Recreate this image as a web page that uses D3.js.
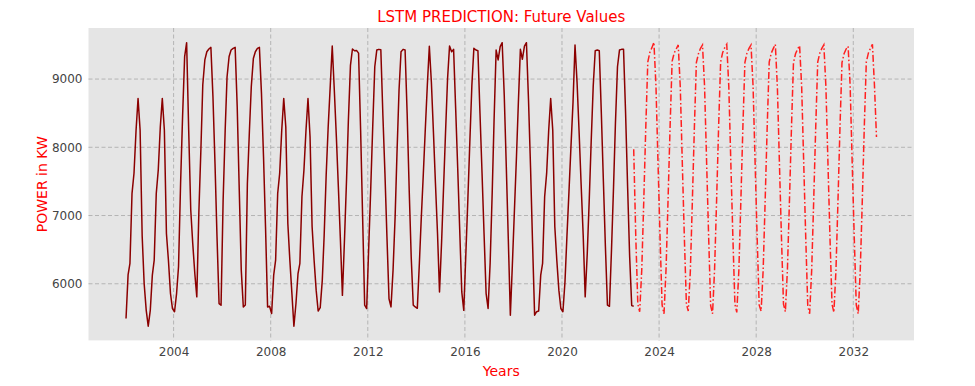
<!DOCTYPE html>
<html>
<head>
<meta charset="utf-8">
<script src="https://cdn.jsdelivr.net/npm/d3@7/dist/d3.min.js"></script>
<style>
  body { margin: 0; background: #fff; }
  svg text { font-family: "DejaVu Sans", sans-serif; }
</style>
</head>
<body>
<div id="chart"></div>
<script>
// monthly power (KW), one row per year, Jan..Dec
var histYears = [2002, 2003, 2004, 2005, 2006, 2007, 2008, 2009, 2010, 2011, 2012,
                 2013, 2014, 2015, 2016, 2017, 2018, 2019, 2020, 2021, 2022];
var histPower = [
  [5490, 6130, 6300, 7320, 7620, 8250, 8716, 8250, 6700, 6000, 5610, 5378],
  [5610, 6126, 6345, 7323, 7665, 8300, 8716, 8250, 6737, 6345, 5857, 5637],
  [5590, 5860, 6250, 7470, 8450, 9330, 9533, 8250, 7080, 6590, 6150, 5808],
  [7050, 7980, 8917, 9280, 9400, 9440, 9464, 8740, 7760, 6690, 5710, 5686],
  [7220, 8250, 9030, 9330, 9425, 9450, 9464, 8595, 7370, 6200, 5660, 5690],
  [7470, 8250, 8890, 9300, 9400, 9450, 9464, 8790, 7860, 6835, 5660, 5670],
  [5564, 6126, 6345, 7323, 7617, 8250, 8716, 8300, 6880, 6345, 5857, 5378],
  [5710, 6150, 6300, 7275, 7665, 8250, 8716, 8150, 6835, 6345, 5906, 5600],
  [5650, 6050, 6700, 7600, 8300, 8900, 9484, 8840, 8150, 7420, 6640, 5830],
  [6640, 7520, 8400, 9200, 9440, 9415, 9420, 9380, 8250, 6980, 5686, 5637],
  [6540, 7420, 8300, 9180, 9425, 9435, 9430, 8470, 7617, 6690, 5780, 5661],
  [6200, 6980, 7910, 8840, 9400, 9435, 9425, 8500, 7370, 6395, 5686, 5660],
  [5640, 6300, 6950, 7600, 8260, 8917, 9480, 8946, 8213, 7470, 6737, 5880],
  [6600, 7440, 8200, 9000, 9484, 9400, 9435, 8570, 7690, 6790, 5880, 5610],
  [6430, 7250, 8070, 8910, 9450, 9425, 9415, 8500, 7620, 6740, 5860, 5637],
  [6310, 7340, 8400, 9425, 9280, 9474, 9533, 8765, 7714, 6660, 5540, 6270],
  [7070, 7860, 8640, 9435, 9290, 9484, 9533, 8700, 7700, 6600, 5540, 5590],
  [5600, 6126, 6297, 7275, 7617, 8250, 8716, 8250, 6835, 6345, 5906, 5637],
  [5590, 6030, 6690, 7350, 8010, 8660, 9500, 8946, 8210, 7455, 6712, 5808],
  [6440, 7255, 8076, 8900, 9415, 9425, 9415, 8500, 7500, 6550, 5686, 5670],
  [6500, 7430, 8350, 9180, 9425, 9435, 9435, 8500, 7400, 6400, 5680, 5670]
];

// LSTM forecast, starts on the last observed month (Dec 2022)
var predFirst = 7970;
var predYears = [2023, 2024, 2025, 2026, 2027, 2028, 2029, 2030, 2031, 2032];
var predPower = [
  [6700, 5700, 5590, 6200, 7200, 8300, 9250, 9390, 9460, 9540, 8900, 7800],
  [6700, 5690, 5560, 6220, 7230, 8320, 9260, 9380, 9440, 9500, 8880, 7780],
  [6680, 5700, 5600, 6180, 7190, 8290, 9240, 9370, 9450, 9500, 8900, 7820],
  [6710, 5680, 5560, 6210, 7210, 8310, 9250, 9390, 9460, 9510, 8890, 7790],
  [6690, 5700, 5580, 6190, 7200, 8300, 9240, 9380, 9450, 9500, 8900, 7800],
  [6700, 5690, 5600, 6200, 7220, 8310, 9250, 9380, 9450, 9510, 8880, 7790],
  [6690, 5700, 5590, 6210, 7200, 8290, 9240, 9370, 9440, 9490, 8900, 7810],
  [6700, 5680, 5560, 6200, 7210, 8300, 9250, 9380, 9450, 9500, 8890, 7800],
  [6690, 5700, 5580, 6190, 7190, 8300, 9240, 9370, 9440, 9480, 8900, 7790],
  [6700, 5690, 5560, 6200, 7200, 8310, 9250, 9380, 9450, 9510, 8900, 8150]
];

var xTickYears = [2004, 2008, 2012, 2016, 2020, 2024, 2028, 2032];
var yTickValues = [6000, 7000, 8000, 9000];

var width = 975, height = 386;
var plot = {left: 88.5, right: 914, top: 28, bottom: 340.4};

// flatten rows into dated points
var hist = [];
histYears.forEach(function(yr, r) {
  histPower[r].forEach(function(v, m) { hist.push({date: new Date(yr, m, 15), value: v}); });
});
var pred = [{date: new Date(2022, 11, 15), value: predFirst}];
predYears.forEach(function(yr, r) {
  predPower[r].forEach(function(v, m) { pred.push({date: new Date(yr, m, 15), value: v}); });
});
var all = hist.concat(pred);

// 5% padding like matplotlib autoscale
var dExt = d3.extent(all, function(d) { return d.date; });
var dPad = (dExt[1] - dExt[0]) * 0.05;
var vExt = d3.extent(all, function(d) { return d.value; });
var vPad = (vExt[1] - vExt[0]) * 0.05;

var x = d3.scaleTime()
  .domain([new Date(+dExt[0] - dPad), new Date(+dExt[1] + dPad)])
  .range([plot.left, plot.right]);
var y = d3.scaleLinear()
  .domain([vExt[0] - vPad, vExt[1] + vPad])
  .range([plot.bottom, plot.top]);

var svg = d3.select('#chart').append('svg')
  .attr('width', width).attr('height', height);

svg.append('rect')
  .attr('x', plot.left).attr('y', plot.top)
  .attr('width', plot.right - plot.left).attr('height', plot.bottom - plot.top)
  .attr('fill', '#e5e5e5');

var xTickDates = xTickYears.map(function(yr) { return new Date(yr, 0, 1); });

// grid
var grid = svg.append('g').attr('stroke', '#b4b4b4').attr('stroke-width', 1).attr('stroke-dasharray', '4,2.5');
grid.selectAll('.vg').data(xTickDates).enter().append('line')
  .attr('x1', function(d) { return x(d); }).attr('x2', function(d) { return x(d); })
  .attr('y1', plot.top).attr('y2', plot.bottom);
grid.selectAll('.hg').data(yTickValues).enter().append('line')
  .attr('x1', plot.left).attr('x2', plot.right)
  .attr('y1', function(d) { return y(d); }).attr('y2', function(d) { return y(d); });

// axes
var xAxis = svg.append('g')
  .attr('transform', 'translate(0,' + plot.bottom + ')')
  .call(d3.axisBottom(x).tickValues(xTickDates).tickFormat(d3.timeFormat('%Y')).tickSize(0).tickPadding(7));
var yAxis = svg.append('g')
  .attr('transform', 'translate(' + plot.left + ',0)')
  .call(d3.axisLeft(y).tickValues(yTickValues).tickFormat(d3.format('d')).tickSize(0).tickPadding(6));
[xAxis, yAxis].forEach(function(ax) {
  ax.select('.domain').remove();
  ax.selectAll('text').attr('fill', '#444').style('font-size', '12px');
});

var line = d3.line()
  .x(function(d) { return x(d.date); })
  .y(function(d) { return y(d.value); });

svg.append('path').datum(hist)
  .attr('d', line)
  .attr('fill', 'none')
  .attr('stroke', '#8b0000')
  .attr('stroke-width', 1.5)
  .attr('stroke-linejoin', 'round');

svg.append('path').datum(pred)
  .attr('d', line)
  .attr('fill', 'none')
  .attr('stroke', '#ff2020')
  .attr('stroke-width', 1.5)
  .attr('stroke-dasharray', '7,2.4,1.5,2.4');

// titles
svg.append('text')
  .attr('x', (plot.left + plot.right) / 2).attr('y', 22)
  .attr('text-anchor', 'middle').attr('fill', 'red').style('font-size', '15px')
  .text('LSTM PREDICTION: Future Values');
svg.append('text')
  .attr('x', (plot.left + plot.right) / 2).attr('y', 376)
  .attr('text-anchor', 'middle').attr('fill', 'red').style('font-size', '14px')
  .text('Years');
svg.append('text')
  .attr('transform', 'translate(47,' + (plot.top + plot.bottom) / 2 + ') rotate(-90)')
  .attr('text-anchor', 'middle').attr('fill', 'red').style('font-size', '14px')
  .text('POWER in KW');
</script>
</body>
</html>
